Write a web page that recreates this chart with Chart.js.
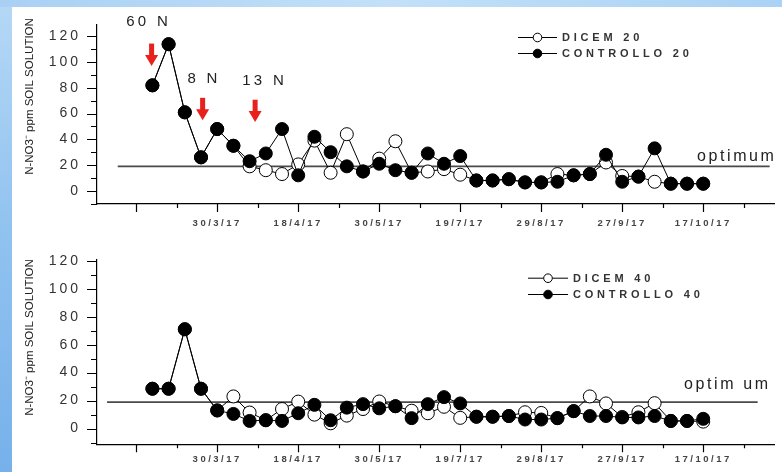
<!DOCTYPE html>
<html><head><meta charset="utf-8">
<script src="https://cdn.jsdelivr.net/npm/chart.js@4/dist/chart.umd.min.js"></script>
<style>
html,body{margin:0;padding:0;}
body{width:782px;height:472px;overflow:hidden;position:relative;background:linear-gradient(to bottom,#b6d8f6 0%,#93c4f0 45%,#76b1ea 100%);}
#topstrip{position:absolute;left:0;top:0;width:782px;height:7px;background:linear-gradient(to right,#a9d0f4,#c3e0f8 50%,#a9d2f5);}
#panel{position:absolute;left:12px;top:7px;width:770px;height:465px;background:#fff;}
canvas{position:absolute;left:0;}
#c1{top:0;width:782px;height:235px;}
#c2{top:235px;width:782px;height:237px;}
</style></head><body>
<div id="topstrip"></div>
<div id="panel"></div>
<canvas id="c1" width="782" height="235"></canvas>
<canvas id="c2" width="782" height="237"></canvas>
<script>
// ---- data ----
const sampleIndex = [0,1,2,3,4,5,6,7,8,9,10,11,12,13,14,15,16,17,18,19,20,21,22,23,24,25,26,27,28,29,30,31,32,33,34];
const dicem20     = [82,114,61,26,48,35,19,16,13,20.5,39,14,44,15,25,38.5,14,15,16.8,12.5,8,8,9,6.5,6.5,13,12,13,22,11.5,11,7,5.5,5.5,5.5];
const controllo20 = [82,114,61,26,48,35,23,29,48,12,42,30,19,15,21,16,14,29,21,27,8,8,9,6.5,6.5,7,12,13,28,7,11,33,5.5,5.5,5.5];
const dicem40     = [28.5,28.5,71,28.5,13,23,11.5,6,14,19.3,10,3.8,9.3,14,19.4,16,12.8,11,15.6,7.7,8.5,8.5,9,11.7,11.2,7.5,12.5,23,18,8.3,11.7,18.2,5.5,5.5,5];
const controllo40 = [28.5,28.5,71,28.5,13,10.5,5.5,6,5.5,11,17,6,15,17.5,14.5,16,7.5,17.5,22.5,18,8.5,8.5,9,6.5,6.5,7.5,12.5,9,9,8,8,9,5.5,5.5,7];
const optimumValue = 19;
const xTickValues = [-1,1.5,4,6.5,9,11.5,14,16.5,19,21.5,24,26.5,29,31.5,34,36.5];
const dateTickPositions = [4,9,14,19,24,29,34];
const dateTickLabels = ['30/3/17','18/4/17','30/5/17','19/7/17','29/8/17','27/9/17','17/10/17'];
const yTickValues = [-10,0,10,20,30,40,50,60,70,80,90,100,110,120,130];
const yTickLabels = [0,20,40,60,80,100,120];
const yTitle = 'N-NO3\u207B ppm SOIL SOLUTION';
const doses = ['60 N','8 N','13 N'];
const doseDates = [-0.05, 3.1, 6.34];

function toXY(vals){ return vals.map((v,i)=>({x:sampleIndex[i], y:v})); }

function patchScale(scale, spacing){
  if (scale._lsPatched) return;
  const orig = scale.drawLabels;
  scale.drawLabels = function(area){ const c=this.ctx; c.save(); c.letterSpacing=spacing; orig.call(this, area); c.restore(); };
  scale._lsPatched = true;
}

function decor(opt){
  return {
    id:'decor',
    beforeDraw(chart){ patchScale(chart.scales.x,'2.5px'); patchScale(chart.scales.y,'3px'); },
    afterDraw(chart){
      const ctx = chart.ctx, xs = chart.scales.x, ys = chart.scales.y, a = chart.chartArea;
      ctx.save();
      ctx.strokeStyle = '#000'; ctx.lineWidth = 1.2;
      ctx.beginPath();
      ys.ticks.forEach(t=>{
        const p = Math.round(ys.getPixelForValue(t.value))+0.5;
        const len = yTickLabels.includes(t.value) ? 10 : 6;
        ctx.moveTo(a.left-len, p); ctx.lineTo(a.left, p);
      });
      xs.ticks.forEach(t=>{
        const p = Math.round(xs.getPixelForValue(t.value))+0.5;
        const len = (dateTickPositions.includes(t.value) || t.value===-1) ? 8 : 4;
        ctx.moveTo(p, a.bottom); ctx.lineTo(p, a.bottom+len);
      });
      ctx.stroke();
      // y title
      ctx.save();
      ctx.translate(opt.titleX, opt.titleY);
      ctx.rotate(-Math.PI/2);
      ctx.fillStyle = '#222';
      ctx.font = '11.5px "Liberation Sans Narrow", "Arial Narrow", Arial, sans-serif';
      ctx.textAlign = 'center'; ctx.textBaseline = 'middle';
      ctx.fillText(yTitle, 0, 0);
      ctx.restore();
      // legend
      ctx.font = 'bold 11px Arial, "Liberation Sans", sans-serif';
      ctx.letterSpacing = '3.8px';
      ctx.textBaseline = 'middle'; ctx.textAlign = 'left';
      opt.names.forEach((n,k)=>{
        const y = opt.legY[k];
        ctx.strokeStyle = '#000'; ctx.lineWidth = 1;
        ctx.beginPath(); ctx.moveTo(opt.legX0, y+0.5); ctx.lineTo(opt.legX1, y+0.5); ctx.stroke();
        ctx.beginPath(); ctx.arc((opt.legX0+opt.legX1)/2, y+0.5, 4.3, 0, Math.PI*2);
        ctx.fillStyle = k===0 ? '#fff' : '#000'; ctx.fill(); ctx.stroke();
        ctx.fillStyle = '#333';
        ctx.fillText(n, opt.legTextX, y+1);
      });
      // optimum label
      ctx.font = '16px Arial, "Liberation Sans", sans-serif';
      ctx.letterSpacing = '2.6px';
      ctx.fillStyle = '#222'; ctx.textBaseline = 'alphabetic';
      ctx.fillText(opt.optText, opt.optTextX, opt.optTextY);
      // dose annotations
      if (opt.arrows) {
        ctx.font = '15px Arial, "Liberation Sans", sans-serif';
        ctx.letterSpacing = '3.3px';
        ctx.textAlign = 'center'; ctx.textBaseline = 'middle';
        opt.arrows.forEach((ar,k)=>{
          ctx.fillStyle = '#222';
          ctx.fillText(doses[k], ar.tx+1.6, ar.ty);
          const x = xs.getPixelForValue(doseDates[k]);
          const y1 = ys.getPixelForValue(ar.y1), y2 = ys.getPixelForValue(ar.y2);
          const headH = 11;
          ctx.fillStyle = '#e8211c';
          ctx.fillRect(x-2.5, y1, 5, (y2-y1)-headH+1);
          ctx.beginPath(); ctx.moveTo(x-6.5, y2-headH); ctx.lineTo(x+6.5, y2-headH); ctx.lineTo(x, y2); ctx.closePath(); ctx.fill();
        });
      }
      ctx.restore();
    }
  };
}

function makeChart(id, opt){
  return new Chart(document.getElementById(id), {
    type:'line',
    data:{datasets:[
      {label:opt.names[0], data:toXY(opt.dicem), order:2, borderColor:'#000', borderWidth:1, tension:0,
       pointRadius:6.5, pointBackgroundColor:'#fff', pointBorderColor:'#000', pointBorderWidth:1},
      {label:opt.names[1], data:toXY(opt.ctrl), order:1, borderColor:'#000', borderWidth:1, tension:0,
       pointRadius:6.5, pointBackgroundColor:'#000', pointBorderColor:'#000', pointBorderWidth:1},
      {label:'optimum', data:[{x:opt.optFrom, y:optimumValue},{x:opt.optTo, y:optimumValue}], order:3,
       borderColor:'#4a4a4a', borderWidth:1.8, pointRadius:0}
    ]},
    options:{
      responsive:false, animation:false, events:[],
      layout:{padding:{top:opt.padTop, left:0, right:0, bottom:0}},
      plugins:{legend:{display:false}, tooltip:{enabled:false}},
      scales:{
        x:{type:'linear', min:-3.42, max:38.4,
           grid:{display:false, drawTicks:false}, border:{display:true, color:'#000', width:1.2},
           afterBuildTicks:s=>{ s.ticks = xTickValues.map(v=>({value:v})); },
           afterFit:s=>{ s.height = opt.xAxisH; },
           ticks:{autoSkip:false, maxRotation:0, minRotation:0, padding:opt.xPad, color:'#444',
                  font:{family:'Arial', size:9.5, weight:'bold'},
                  callback:v=>{ const k = dateTickPositions.indexOf(v); return k>=0 ? dateTickLabels[k] : ''; }}},
        y:{type:'linear', min:opt.ymin, max:opt.ymax,
           grid:{display:false, drawTicks:false}, border:{display:true, color:'#000', width:1.2},
           afterBuildTicks:s=>{ s.ticks = yTickValues.filter(v=>v>=opt.ymin && v<=opt.ymax).map(v=>({value:v})); },
           afterFit:s=>{ s.width = 97; },
           ticks:{autoSkip:false, padding:16, color:'#333', font:{family:'Arial', size:14},
                  callback:v=> yTickLabels.includes(v) ? String(v) : ''}}
      }
    },
    plugins:[decor(opt)]
  });
}

makeChart('c1', {
  dicem:dicem20, ctrl:controllo20, names:['DICEM 20','CONTROLLO 20'],
  ymin:-10.3, ymax:129.4, padTop:18.5, xAxisH:31, xPad:14,
  optFrom:-2.14, optTo:38.1,
  titleX:30, titleY:96.5,
  legX0:518, legX1:557, legTextX:562, legY:[37,53],
  optText:'optimum', optTextX:697, optTextY:161,
  arrows:[{tx:147,ty:22,y1:114.5,y2:97},{tx:202.5,ty:79,y1:72.3,y2:54.9},{tx:263,ty:81,y1:70.8,y2:53.4}]
});
makeChart('c2', {
  dicem:dicem40, ctrl:controllo40, names:['DICEM 40','CONTROLLO 40'],
  ymin:-11.2, ymax:120.9, padTop:21, xAxisH:27.7, xPad:9,
  optFrom:-2.8, optTo:37.36,
  titleX:30, titleY:102.5,
  legX0:528, legX1:568, legTextX:573, legY:[42.7,59],
  optText:'optim um', optTextX:684, optTextY:154,
  arrows:null
});
</script></body></html>
